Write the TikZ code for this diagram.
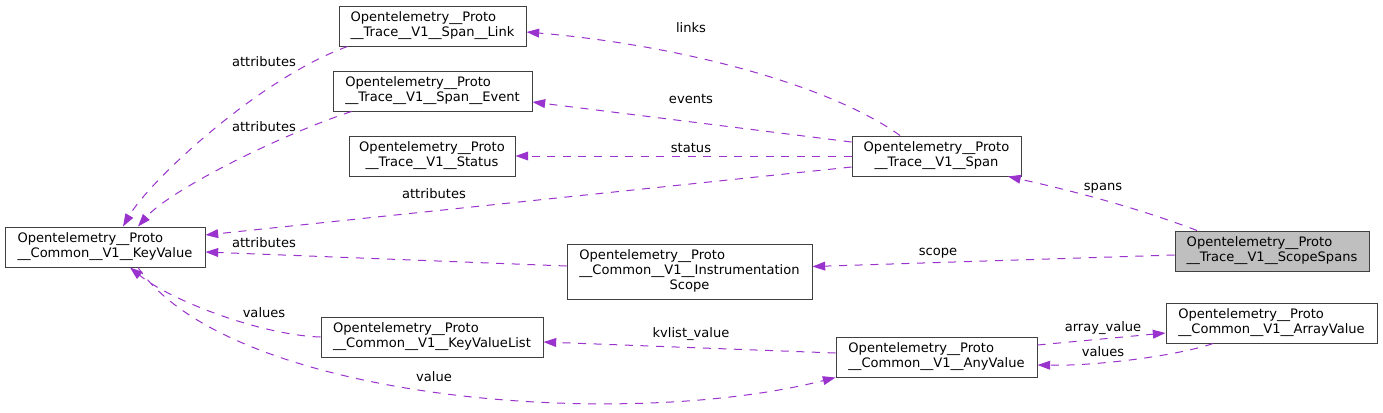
\documentclass[tikz,border=0pt]{standalone}
\usepackage{fontspec}
\setmainfont{DejaVu Sans}
\usetikzlibrary{calc,arrows.meta}
\definecolor{edgepurple}{HTML}{9A32CD}
\definecolor{boxgray}{HTML}{404040}
\definecolor{hlgray}{HTML}{BFBFBF}
\newcommand\dxtwo[2]{\begin{tabular}{@{}l@{}}#1\\\multicolumn{1}{@{}c@{}}{#2}\end{tabular}}
\newcommand\dxthree[3]{\begin{tabular}{@{}l@{}}#1\\#2\\\multicolumn{1}{@{}c@{}}{#3}\end{tabular}}
\begin{document}
\begin{tikzpicture}[x=0.75pt,y=-0.75pt,
  every node/.style={font=\fontsize{9.8pt}{11.25pt}\selectfont},
  cls/.style={draw=boxgray, line width=0.75pt, fill=white, inner sep=0pt, minimum height=30pt},
  bw/.style={minimum width=#1*0.75pt},
  rel/.style={draw=edgepurple, line width=0.75pt, dash pattern=on 6pt off 5.7pt,
    -{Triangle[length=9.5pt,width=6.6pt]}, fill=none},
  lab/.style={inner sep=0pt, anchor=base}
]
\fill[white] (0,0) rectangle (1383,412);
\useasboundingbox (0,0) rectangle (1383,412);

% nodes
\node[cls,bw=187] (link)  at (432.5,26)  {\dxtwo{Opentelemetry\_\_Proto}{\_\_Trace\_\_V1\_\_Span\_\_Link}};
\node[cls,bw=199] (event) at (432.5,91)  {\dxtwo{Opentelemetry\_\_Proto}{\_\_Trace\_\_V1\_\_Span\_\_Event}};
\node[cls,bw=166] (status) at (432,156)  {\dxtwo{Opentelemetry\_\_Proto}{\_\_Trace\_\_V1\_\_Status}};
\node[cls,bw=200] (kv)    at (105,247)   {\dxtwo{Opentelemetry\_\_Proto}{\_\_Common\_\_V1\_\_KeyValue}};
\node[cls,bw=222] (kvl)   at (432,337)   {\dxtwo{Opentelemetry\_\_Proto}{\_\_Common\_\_V1\_\_KeyValueList}};
\node[cls,bw=169] (span)  at (936.5,156) {\dxtwo{Opentelemetry\_\_Proto}{\_\_Trace\_\_V1\_\_Span}};
\node[cls,bw=245,minimum height=55*0.75pt] (scope) at (689.5,271.5)
  {\dxthree{Opentelemetry\_\_Proto}{\_\_Common\_\_V1\_\_Instrumentation}{Scope}};
\node[cls,bw=201] (any)   at (936.5,357) {\dxtwo{Opentelemetry\_\_Proto}{\_\_Common\_\_V1\_\_AnyValue}};
\node[cls,bw=194,fill=hlgray] (ss) at (1272,251) {\dxtwo{Opentelemetry\_\_Proto}{\_\_Trace\_\_V1\_\_ScopeSpans}};
\node[cls,bw=211] (arr)   at (1271.5,323) {\dxtwo{Opentelemetry\_\_Proto}{\_\_Common\_\_V1\_\_ArrayValue}};

% edges
\draw[rel] ($(span.north)+(-36.5,0)$) .. controls (830,85) and (680,45) .. ($(link.east)+(0,6)$);
\draw[rel] ($(span.west)+(0,-14)$) -- ($(event.east)+(0,11)$);
\draw[rel] (span.west) -- (status.east);
\draw[rel] ($(span.west)+(0,11)$) -- ($(kv.east)+(0,-12)$);
\draw[rel] ($(link.south west)+(9,0)$) .. controls (260,78) and (150,180) .. ($(kv.north)+(18,0)$);
\draw[rel] ($(event.south west)+(19,0)$) .. controls (280,135) and (170,190) .. ($(kv.north)+(33,0)$);
\draw[rel] ($(scope.west)+(0,-5.5)$) -- ($(kv.east)+(0,5)$);
\draw[rel] (kvl.west) .. controls (260,335) and (170,300) .. ($(kv.south)+(25,0)$);
\draw[rel] ($(kv.south)+(33,0)$) .. controls (230,400) and (620,432) .. (any.south west);
\draw[rel] ($(ss.north)+(-75,0)$) .. controls (1130,205) and (1060,188) .. ($(span.south)+(71.5,0)$);
\draw[rel] ($(ss.west)+(0,4)$) -- ($(scope.east)+(0,-5)$);
\draw[rel] ($(any.west)+(0,-4)$) -- ($(kvl.east)+(0,5)$);
\draw[rel] ($(any.east)+(0,-12)$) -- ($(arr.west)+(0,10)$);
\draw[rel] ($(arr.south)+(-58.5,0)$) .. controls (1180,355) and (1100,366) .. ($(any.east)+(0,8)$);

% labels
\node[lab] (tlinks)  at (691,32.5)  {links};
\node[lab] (tevents) at (691,103.5) {events};
\node[lab] (tstatus) at (691,152.5) {status};
\node[lab] (tattr1)  at (434,198.5) {attributes};
\node[lab] (tattr2)  at (264,66)    {attributes};
\node[lab] (tattr3)  at (264,131.5) {attributes};
\node[lab] (tattr4)  at (264,247.5) {attributes};
\node[lab] (tvals1)  at (264,317.5) {values};
\node[lab] (tval)    at (434,381.5) {value};
\node[lab] (tspans)  at (1103,190)  {spans};
\node[lab] (tscope)  at (938,255)   {scope};
\node[lab] (tkvl)    at (691,337.5) {kvlist\_value};
\node[lab] (tarr)    at (1103,331)  {array\_value};
\node[lab] (tvals2)  at (1103,356.5) {values};
\end{tikzpicture}
\end{document}
